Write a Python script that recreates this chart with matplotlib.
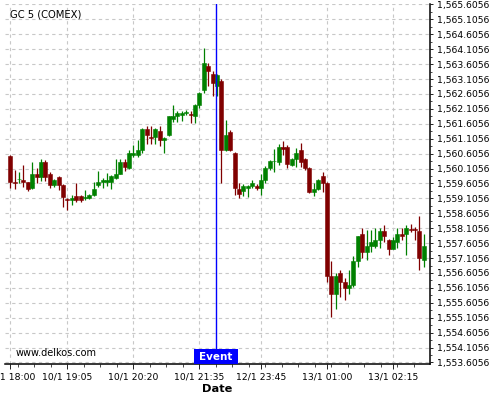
import matplotlib
matplotlib.use("Agg")
import matplotlib.pyplot as plt
import numpy as np
from matplotlib.patches import Rectangle
from matplotlib.ticker import FixedLocator, FuncFormatter

# 5-minute candles, GC 5 (COMEX)
opens = [1560.53, 1559.66, 1559.74, 1559.73, 1559.64, 1559.45, 1559.93, 1559.83, 1560.33, 1559.93,
         1559.55, 1559.83, 1559.55, 1559.07, 1559.04, 1559.20, 1559.20, 1559.13, 1559.13, 1559.22,
         1559.54, 1559.64, 1559.65, 1559.65, 1559.78, 1559.93, 1560.34, 1560.14, 1560.55, 1560.55,
         1560.73, 1561.43, 1561.17, 1561.16, 1561.35, 1561.05, 1561.24, 1561.75, 1561.85, 1561.91,
         1561.97, 1561.92, 1561.85, 1562.24, 1562.75, 1563.55, 1563.27, 1562.86, 1563.05, 1560.74,
         1561.33, 1560.63, 1559.43, 1559.34, 1559.45, 1559.53, 1559.53, 1559.45, 1559.72, 1560.14,
         1560.35, 1560.34, 1560.84, 1560.84, 1560.23, 1560.42, 1560.73, 1560.42, 1560.12, 1559.33,
         1559.41, 1559.84, 1559.63, 1556.51, 1555.91, 1556.61, 1556.31, 1556.11, 1556.21, 1557.02,
         1557.92, 1557.32, 1557.52, 1557.52, 1557.72, 1558.02, 1557.72, 1557.42, 1557.63, 1557.92,
         1557.92, 1558.06, 1558.06, 1558.02, 1557.03]
highs = [1560.55, 1560.06, 1560.00, 1560.23, 1559.66, 1560.31, 1560.12, 1560.43, 1560.40, 1559.98,
         1559.76, 1559.86, 1559.58, 1559.13, 1559.22, 1559.61, 1559.22, 1559.40, 1559.25, 1559.64,
         1560.03, 1559.80, 1559.97, 1559.90, 1560.42, 1560.42, 1560.42, 1560.73, 1560.90, 1561.07,
         1561.45, 1561.52, 1561.52, 1561.45, 1561.52, 1561.16, 1561.88, 1562.24, 1562.02, 1562.02,
         1562.06, 1562.02, 1562.27, 1562.66, 1564.14, 1563.64, 1563.36, 1563.28, 1563.10, 1561.74,
         1561.41, 1560.66, 1559.62, 1559.60, 1559.56, 1559.73, 1559.58, 1559.93, 1560.18, 1560.40,
         1560.77, 1560.93, 1561.03, 1560.90, 1560.45, 1560.79, 1560.95, 1560.45, 1560.15, 1559.61,
         1559.76, 1560.00, 1559.66, 1557.02, 1556.61, 1556.71, 1556.43, 1556.71, 1557.16, 1557.86,
         1558.11, 1558.03, 1558.03, 1558.11, 1558.11, 1558.22, 1557.75, 1557.80, 1558.11, 1558.11,
         1558.22, 1558.25, 1558.14, 1558.52, 1557.92]
lows = [1559.45, 1559.41, 1559.62, 1559.50, 1559.34, 1559.41, 1559.62, 1559.69, 1559.70, 1559.45,
        1559.50, 1559.40, 1558.83, 1558.72, 1558.90, 1559.00, 1558.98, 1559.05, 1559.10, 1559.18,
        1559.50, 1559.45, 1559.53, 1559.42, 1559.75, 1559.92, 1560.01, 1560.10, 1560.50, 1560.50,
        1560.64, 1560.93, 1560.93, 1560.93, 1560.85, 1560.64, 1561.20, 1561.65, 1561.65, 1561.70,
        1561.90, 1561.63, 1561.63, 1562.12, 1562.63, 1562.86, 1562.52, 1562.52, 1559.62, 1560.70,
        1560.70, 1559.23, 1559.12, 1559.19, 1559.15, 1559.45, 1559.40, 1559.23, 1559.62, 1560.05,
        1560.00, 1560.23, 1560.56, 1560.12, 1560.20, 1560.15, 1560.17, 1560.05, 1559.30, 1559.19,
        1559.38, 1559.33, 1556.29, 1555.13, 1555.40, 1555.80, 1555.71, 1555.91, 1556.15, 1556.80,
        1557.11, 1557.03, 1557.32, 1557.45, 1557.44, 1557.63, 1557.22, 1557.40, 1557.44, 1557.72,
        1557.22, 1557.98, 1557.72, 1556.71, 1556.80]
closes = [1559.64, 1559.62, 1559.77, 1559.64, 1559.43, 1559.93, 1559.83, 1560.32, 1559.83, 1559.55,
          1559.72, 1559.55, 1559.15, 1559.04, 1559.13, 1559.05, 1559.05, 1559.15, 1559.22, 1559.43,
          1559.64, 1559.73, 1559.73, 1559.84, 1559.92, 1560.34, 1560.15, 1560.62, 1560.64, 1560.73,
          1561.43, 1561.24, 1561.15, 1561.43, 1561.05, 1561.13, 1561.85, 1561.85, 1561.96, 1561.96,
          1561.99, 1561.90, 1562.24, 1562.63, 1563.64, 1563.36, 1562.97, 1563.25, 1560.74, 1561.24,
          1560.74, 1559.45, 1559.26, 1559.53, 1559.53, 1559.62, 1559.45, 1559.73, 1560.14, 1560.36,
          1560.37, 1560.84, 1560.75, 1560.25, 1560.42, 1560.62, 1560.34, 1560.12, 1559.33, 1559.41,
          1559.72, 1559.63, 1556.51, 1555.91, 1556.51, 1556.31, 1556.11, 1556.21, 1557.02, 1557.83,
          1557.32, 1557.52, 1557.63, 1557.72, 1558.02, 1557.83, 1557.42, 1557.72, 1557.92, 1557.83,
          1558.11, 1558.04, 1558.04, 1557.12, 1557.52]

tick_idx = [0, 13, 28, 43, 57, 72, 87]
tick_labels = ["10/1 18:00", "10/1 19:05", "10/1 20:20", "10/1 21:35",
               "12/1 23:45", "13/1 01:00", "13/1 02:15"]
event_idx = 46.8
y_ticks = [1553.6056 + 0.5 * k for k in range(25)]

o = np.array(opens)
h = np.array(highs)
l = np.array(lows)
c = np.array(closes)
x = np.arange(len(o))
up = c >= o
cols = np.where(up, "#008000", "#800000")

fig = plt.figure(figsize=(5, 4), dpi=100)
ax = fig.add_axes([0.01, 0.09, 0.85, 0.90])

ax.set_ylim(1553.555, 1565.62)
ax.set_xlim(-1.2, 95.4)

# grid
for yt in y_ticks:
    ax.axhline(yt, color="#c8c8c8", lw=0.8, ls=(0, (3, 3)), zorder=0)
for xt in tick_idx:
    ax.axvline(xt, color="#c8c8c8", lw=0.8, ls=(0, (3, 3)), zorder=0)

# candles
ax.vlines(x, l, h, colors=cols, lw=0.9, zorder=2)
body_h = np.maximum(np.abs(c - o), 0.03)
body_b = np.where(np.abs(c - o) < 0.03, (o + c) / 2 - 0.015, np.minimum(o, c))
ax.bar(x, body_h, bottom=body_b, width=0.9, color=cols, edgecolor=cols, lw=0.4, zorder=3)

# event marker
ax.axvline(event_idx, color="#0000ff", lw=1.0, zorder=4)
y0 = ax.get_ylim()[0]
ax.add_patch(Rectangle((event_idx - 5, y0), 10, 0.5, facecolor="#0000ff",
                       edgecolor="none", zorder=5, clip_on=False))
ax.text(event_idx, y0 + 0.25, "Event", color="white", fontsize=7.5, fontweight="bold",
        ha="center", va="center", zorder=6)

ax.text(0.012, 0.985, "GC 5 (COMEX)", transform=ax.transAxes, fontsize=7.2,
        ha="left", va="top")
ax.text(0.024, 0.017, "www.delkos.com", transform=ax.transAxes, fontsize=7,
        ha="left", va="bottom")

# axes styling
for side in ["left", "top"]:
    ax.spines[side].set_visible(False)
ax.spines["bottom"].set_linewidth(1.1)
ax.spines["right"].set_linewidth(1.1)

ax.yaxis.tick_right()
ax.yaxis.set_major_locator(FixedLocator(y_ticks))
ax.yaxis.set_minor_locator(FixedLocator([v + 0.25 for v in y_ticks[:-1]]))
ax.yaxis.set_major_formatter(FuncFormatter(lambda v, p: f"{v:,.4f}"))
ax.tick_params(axis="y", which="major", labelsize=6.7, length=2.5, pad=2.5, width=0.6)
ax.tick_params(axis="y", which="minor", length=1.5, width=0.5)

ax.set_xticks(tick_idx)
ax.set_xticklabels(tick_labels)
minor_x = [13 + 3.75 * k for k in range(-4, 23)]
ax.xaxis.set_minor_locator(FixedLocator([m for m in minor_x if -1.2 <= m <= 95.4]))
ax.tick_params(axis="x", which="major", labelsize=6.7, length=3.4, pad=2.5, width=0.6)
ax.tick_params(axis="x", which="minor", length=2.0, width=0.5)

ax.set_xlabel("Date", fontsize=8.2, fontweight="bold", labelpad=2)

fig.savefig("out.png", dpi=100)
